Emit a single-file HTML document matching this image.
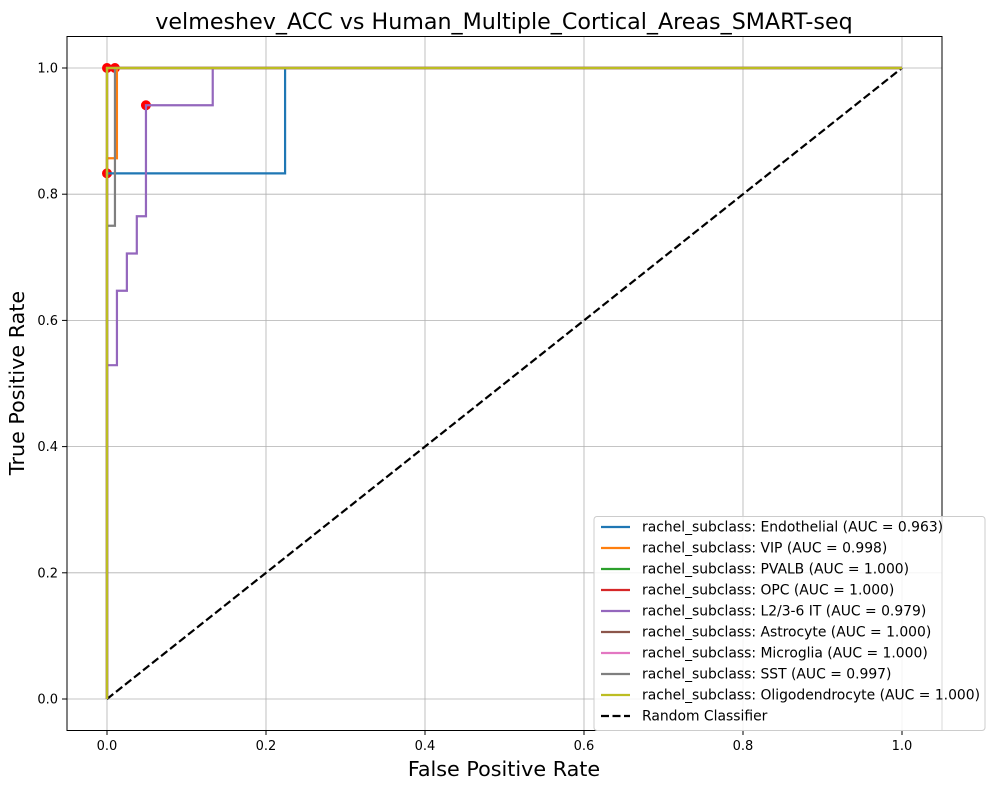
<!DOCTYPE html>
<html><head><meta charset="utf-8"><style>
body{margin:0;background:#fff;font-family:"Liberation Sans","DejaVu Sans",sans-serif;}
</style></head><body>
<svg id="chart" width="994" height="790" xmlns="http://www.w3.org/2000/svg" font-family="DejaVu Sans, Liberation Sans, sans-serif">
<rect width="994" height="790" fill="#fff"/>
<g id="grid"></g><g id="curves"></g><g id="ticks"></g>
<rect x="67" y="36.5" width="875" height="694" fill="none" stroke="#000" stroke-width="1"/>
<text x="504" y="29" font-size="22.2" text-anchor="middle">velmeshev_ACC vs Human_Multiple_Cortical_Areas_SMART-seq</text>
<text x="504" y="776" font-size="20.7" text-anchor="middle">False Positive Rate</text>
<text transform="translate(24,383) rotate(-90)" font-size="20.7" text-anchor="middle">True Positive Rate</text>
<g id="legend"></g>
</svg>
<script>
const NS="http://www.w3.org/2000/svg";
const seriesNames=["rachel_subclass: Endothelial (AUC = 0.963)","rachel_subclass: VIP (AUC = 0.998)","rachel_subclass: PVALB (AUC = 1.000)","rachel_subclass: OPC (AUC = 1.000)","rachel_subclass: L2/3-6 IT (AUC = 0.979)","rachel_subclass: Astrocyte (AUC = 1.000)","rachel_subclass: Microglia (AUC = 1.000)","rachel_subclass: SST (AUC = 0.997)","rachel_subclass: Oligodendrocyte (AUC = 1.000)"];
const colors=["#1f77b4","#ff7f0e","#2ca02c","#d62728","#9467bd","#8c564b","#e377c2","#7f7f7f","#bcbd22"];
const fprs=[[0,0,0.224,0.224,1],[0,0,0.0125,0.0125,1],[0,0,1],[0,0,1],[0,0,0.0125,0.0125,0.025,0.025,0.0375,0.0375,0.049,0.049,0.133,0.133,1],[0,0,1],[0,0,1],[0,0,0.01,0.01,1],[0,0,1]];
const tprs=[[0,0.833,0.833,1,1],[0,0.857,0.857,1,1],[0,1,1],[0,1,1],[0,0.529,0.529,0.647,0.647,0.706,0.706,0.765,0.765,0.941,0.941,1,1],[0,1,1],[0,1,1],[0,0.75,0.75,1,1],[0,1,1]];
const dotX=[0,0.01,0,0.049];
const dotY=[1,1,0.833,0.941];
const ticks=[0,0.2,0.4,0.6,0.8,1.0];
const X=v=>107+v*795, Y=v=>699-v*631;
function el(t,a,p){const e=document.createElementNS(NS,t);for(const k in a)e.setAttribute(k,a[k]);p.appendChild(e);return e;}
const grid=document.getElementById('grid'),tk=document.getElementById('ticks'),cv=document.getElementById('curves'),lg=document.getElementById('legend');
ticks.forEach(t=>{
 let g=el('line',{x1:X(t),x2:X(t),y1:36.5,y2:730.5,stroke:'#b0b0b0','stroke-width':0.8},grid);
 
 
 g=el('line',{x1:67,x2:942,y1:Y(t),y2:Y(t),stroke:'#b0b0b0','stroke-width':0.8},grid);
 
 
 el('line',{x1:X(t),x2:X(t),y1:730.5,y2:735,stroke:'#000'},tk);
 let a=el('text',{x:X(t),y:750,'font-size':13,'text-anchor':'middle'},tk);a.textContent=t.toFixed(1);
 
 
 el('line',{x1:62,x2:67,y1:Y(t),y2:Y(t),stroke:'#000'},tk);
 a=el('text',{x:58,y:Y(t)+4.5,'font-size':13,'text-anchor':'end'},tk);a.textContent=t.toFixed(1);
 
 
});
let d=el('line',{x1:X(0),y1:Y(0),x2:X(1),y2:Y(1),stroke:'#000','stroke-width':2.2,'stroke-dasharray':'8,3.5'},cv);


dotX.forEach((x,i)=>{let c=el('circle',{cx:X(x),cy:Y(dotY[i]),r:5,fill:'#ff0000'},cv);
 
 });
fprs.forEach((f,i)=>{
 const p=el('polyline',{points:f.map((x,j)=>X(x)+','+Y(tprs[i][j])).join(' '),fill:'none',stroke:colors[i],'stroke-width':2.2},cv);
 
 
});
el('rect',{x:594,y:516.5,width:391,height:214,rx:3,fill:'#fff','fill-opacity':0.85,stroke:'#ccc'},lg);
const all=seriesNames.concat(['Random Classifier']);
all.forEach((n,i)=>{
 const y=527+i*21;
 const l=el('line',{x1:601,x2:630,y1:y,y2:y,stroke:i<9?colors[i]:'#000','stroke-width':2.2},lg);
 if(i==9)l.setAttribute('stroke-dasharray','8,3.5');
 const t=el('text',{x:642,y:y+4.5,'font-size':13.9},lg);t.textContent=n;
 
 
});
</script>
</body></html>
